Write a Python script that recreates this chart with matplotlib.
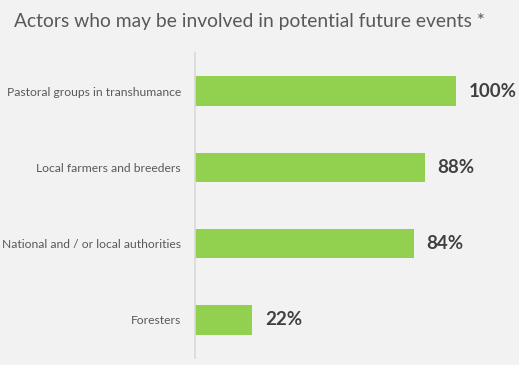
import matplotlib
matplotlib.use("Agg")
import matplotlib.pyplot as plt

# survey shares: actors that may take part in future events
actors = [
    "Pastoral groups in transhumance",
    "Local farmers and breeders",
    "National and / or local authorities",
    "Foresters",
]
shares = [100, 88, 84, 22]
share_labels = ["100%", "88%", "84%", "22%"]

BG = "#f2f2f2"
GREEN = "#92d050"

plt.rcParams["font.family"] = ["Lato", "DejaVu Sans"]

W, H = 519, 365
fig = plt.figure(figsize=(W / 100, H / 100), dpi=100, facecolor=BG)
ax = fig.add_axes([195 / W, 1 - 358 / H, 261 / W, 305 / H], facecolor=BG)

ypos = list(range(len(actors)))
ax.barh(ypos, shares, height=0.39, color=GREEN, edgecolor="none")

for y, v, lab in zip(ypos, shares, share_labels):
    ax.annotate(lab, (v, y), xytext=(9, 0), textcoords="offset points",
                va="center", ha="left", fontsize=13.5, fontweight="bold",
                color="#404040", annotation_clip=False)

ax.set_xlim(0, 100)
ax.set_ylim(len(actors) - 0.5, -0.5)
ax.set_yticks(ypos)
ax.set_yticklabels(actors, fontsize=8.7, color="#595959")
ax.tick_params(axis="y", length=0, pad=10)
ax.set_xticks([])

for side in ["top", "right", "bottom"]:
    ax.spines[side].set_visible(False)
ax.spines["left"].set_color("#d9d9d9")
ax.spines["left"].set_linewidth(1.2)

fig.text(14 / W, 1 - 22 / H, "Actors who may be involved in potential future events *",
         fontsize=13.9, color="#595959", va="center", ha="left")

fig.savefig("out.png", dpi=100, facecolor=BG)
